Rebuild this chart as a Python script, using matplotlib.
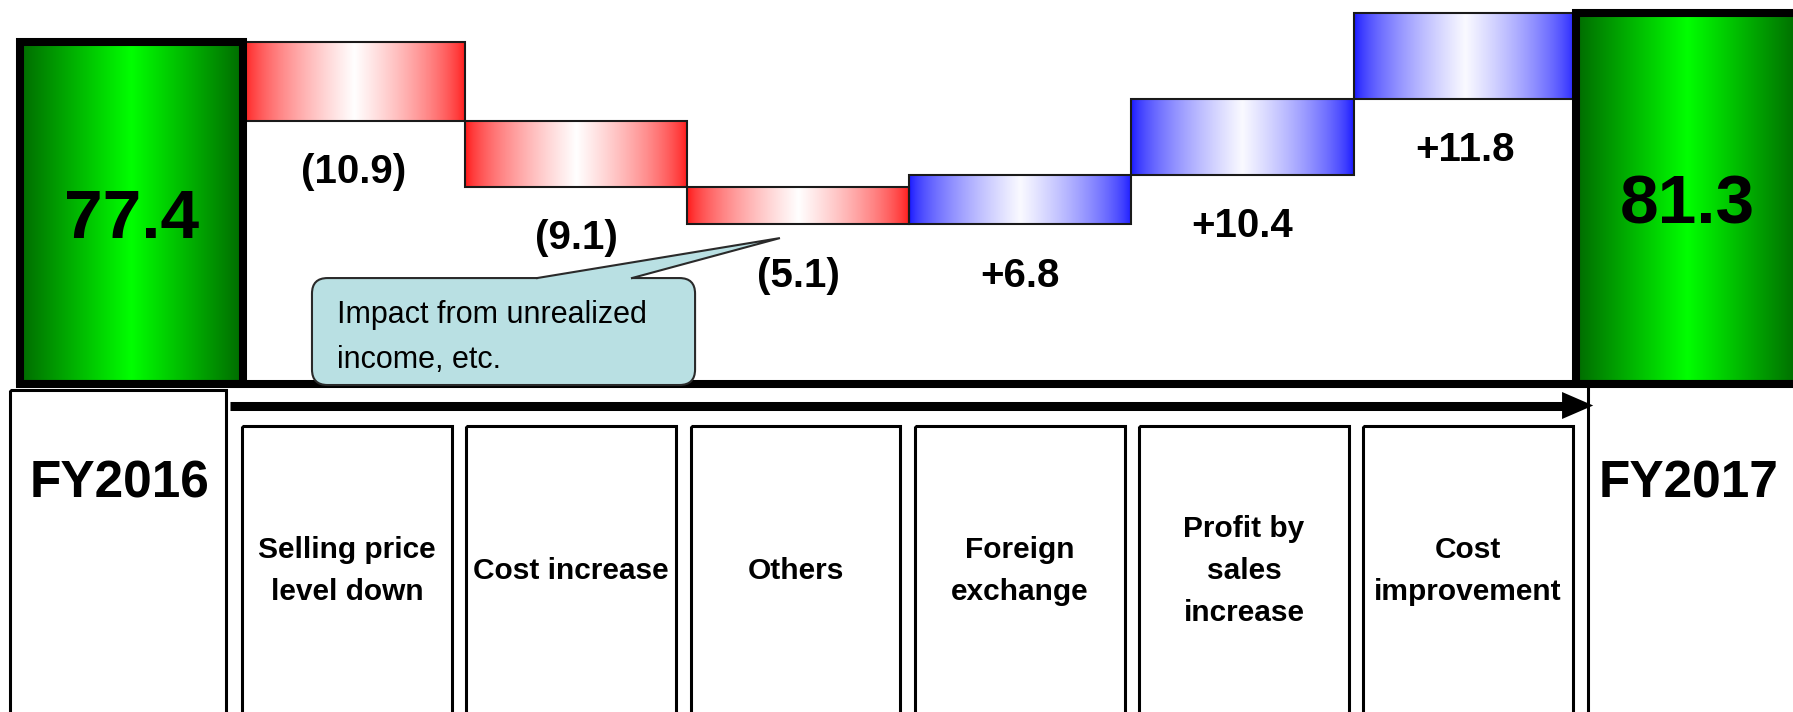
"""Operating profit bridge FY2016 -> FY2017 (waterfall with category table)."""

import numpy as np
import matplotlib
matplotlib.use("Agg")
import matplotlib.pyplot as plt
from matplotlib import font_manager
from matplotlib.patches import FancyBboxPatch, Polygon, Rectangle

# ---- data -----------------------------------------------------------------
categories = ["FY2016", "Selling price\nlevel down", "Cost increase", "Others",
              "Foreign\nexchange", "Profit by\nsales\nincrease", "Cost\nimprovement",
              "FY2017"]
start_value = 77.4
end_value = 81.3
deltas = [-10.9, -9.1, -5.1, 6.8, 10.4, 11.8]
delta_labels = ["(10.9)", "(9.1)", "(5.1)", "+6.8", "+10.4", "+11.8"]
note_lines = ["Impact from unrealized", "income, etc."]

plt.rcParams["font.family"] = ["Liberation Sans", "DejaVu Sans"]

installed = {f.name for f in font_manager.fontManager.ttflist}
if "Liberation Sans Narrow" in installed:
    note_family, note_size = ["Liberation Sans Narrow", "DejaVu Sans"], 25
else:
    note_family, note_size = ["Liberation Sans", "DejaVu Sans"], 22


def hgrad(edge, mid, power=1.0, n=256):
    u = np.linspace(0, 1, n)
    t = (1 - np.abs(2 * u - 1)) ** power
    edge, mid = np.array(edge), np.array(mid)
    cols = edge[None, :] * (1 - t)[:, None] + mid[None, :] * t[:, None]
    return cols[None, :, :]


red_grad = hgrad((1.0, 0.07, 0.07), (1.0, 1.0, 1.0), power=0.65)
blue_grad = hgrad((0.08, 0.08, 1.0), (0.98, 0.98, 1.0), power=0.65)
green_grad = hgrad((0.0, 0.42, 0.0), (0.0, 1.0, 0.0))

fig = plt.figure(figsize=(17.93, 7.12), dpi=100)

# ---- chart part --------------------------------------------------------------
y_min, y_max = 30.30, 83.11
ax = fig.add_axes([0, 328 / 712, 1, 384 / 712])
ax.set_axis_off()

x = np.arange(len(categories))
ends = start_value + np.cumsum(deltas)
prev = np.concatenate([[start_value], ends[:-1]])
lows = np.minimum(prev, ends)

wf = ax.bar(x[1:-1], np.abs(deltas), bottom=lows, width=1.0, facecolor="none",
            edgecolor="#1a1a1a", linewidth=1.5, zorder=3)
for rect, d in zip(wf.patches, deltas):
    x0, y0 = rect.get_x(), rect.get_y()
    ax.imshow(red_grad if d < 0 else blue_grad, aspect="auto", zorder=2,
              interpolation="bilinear",
              extent=[x0, x0 + rect.get_width(), y0, y0 + rect.get_height()])

for xi, low, lbl in zip(x[1:-1], lows, delta_labels):
    ax.annotate(lbl, xy=(xi, low), xytext=(0, -45), textcoords="offset points",
                ha="center", va="baseline", fontsize=29, fontweight="bold", zorder=6)

totals = [start_value, end_value]
tot = ax.bar([x[0], x[-1]], np.array(totals) - y_min, bottom=y_min, width=1.0,
             facecolor="none", edgecolor="black", linewidth=5.8, zorder=4)
for rect, v in zip(tot.patches, totals):
    x0, y0 = rect.get_x(), rect.get_y()
    ax.imshow(green_grad, aspect="auto", zorder=3.5, interpolation="bilinear",
              extent=[x0, x0 + rect.get_width(), y0, y0 + rect.get_height()])
    ax.annotate(f"{v:.1f}", xy=(x0 + rect.get_width() / 2, (y_min + v) / 2),
                xytext=(0, -18), textcoords="offset points", ha="center",
                va="baseline", fontsize=50, fontweight="bold", zorder=6)

ax.plot([x[0] - 0.5, x[-1] + 1], [y_min, y_min], color="black", lw=5.8,
        solid_capstyle="projecting", zorder=4.5, clip_on=False)

# callout
box = FancyBboxPatch((0.812, 30.16), 1.724, 14.71,
                     boxstyle="round,pad=0,rounding_size=0.07", mutation_aspect=30.56,
                     facecolor="#b9e0e3", edgecolor="#2a2a2a", lw=1.5,
                     zorder=7, clip_on=False)
ax.add_patch(box)
tail = [(1.825, 44.87), (2.918, 50.37), (2.252, 44.87)]
ax.add_patch(Polygon([(1.84, 44.3), tail[0], tail[1], tail[2], (2.237, 44.3)],
                     closed=True, facecolor="#b9e0e3", edgecolor="none", zorder=8))
ax.plot(*zip(*tail), color="#2a2a2a", lw=1.5, zorder=9, solid_joinstyle="miter")
for i, line in enumerate(note_lines):
    ax.annotate(line, xy=(0.924, 38.68), xytext=(0, -32.4 * i),
                textcoords="offset points", ha="left", va="baseline",
                fontsize=note_size, family=note_family, zorder=10)

ax.set_xlim(-0.592, 7.477)
ax.set_ylim(y_min, y_max)

# ---- category table -----------------------------------------------------------
axb = fig.add_axes([0, 0, 1, 328 / 712])
axb.set_axis_off()
axb.set_xlim(-0.548, 7.449)
axb.set_ylim(328, 0)

axb.add_patch(Rectangle((-0.503, 5.5), 0.963, 400, facecolor="none",
                        edgecolor="black", lw=2.2))
axb.plot([6.535, 6.535], [0, 330], color="black", lw=2.2)
axb.plot([0.478, 6.43], [21.5, 21.5], color="black", lw=6.5, solid_capstyle="butt")
axb.add_patch(Polygon([(6.419, 8), (6.558, 21.5), (6.419, 35)], closed=True,
                      facecolor="black", edgecolor="none"))

for xi, name in zip(x[1:-1], categories[1:-1]):
    axb.add_patch(Rectangle((xi - 0.468, 42), 0.936, 400, facecolor="none",
                            edgecolor="black", lw=2.2))
    axb.text(xi, 187, name, ha="center", va="center", fontsize=21.5,
             fontweight="bold", linespacing=1.62)

for xi in (x[0], x[-1]):
    axb.text(xi - 0.015, 113, categories[xi], ha="center", va="baseline",
             fontsize=37, fontweight="bold")

fig.savefig("out.png", dpi=100)
